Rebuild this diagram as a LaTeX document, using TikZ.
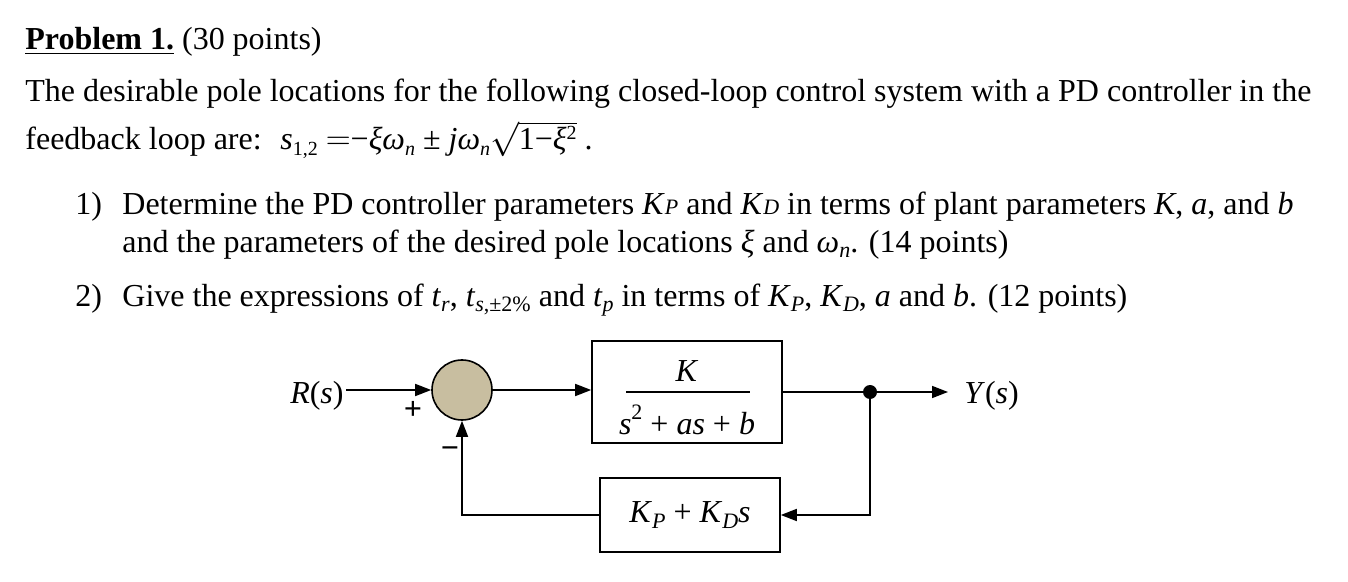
\documentclass[tikz,border=0pt]{standalone}
\usepackage{fontspec}
\setmainfont{Liberation Serif}
\usetikzlibrary{arrows.meta}
\begin{document}
\begin{tikzpicture}[x=0.5pt,y=-0.5pt,
  txt/.style={anchor=base west,inner sep=0pt,font=\fontsize{16}{19}\selectfont},
  blk/.style={draw,line width=0.8pt},
  sig/.style={line width=0.8pt,-{Triangle[length=8pt,width=6pt]}},
  ln/.style={line width=0.8pt}]
\useasboundingbox (0,0) rectangle (1348,582);
\node[txt] (t0) at (25,50) {\textbf{\underline{Problem 1.}} (30 points)};
\node[txt] (t1) at (25,102) {The desirable pole locations for the following closed-loop control system with a PD controller in the};
\node[txt] (t2) at (25,150) {feedback loop are: \ \textit{s}\raisebox{-0.4ex}{\fontsize{10}{10}\selectfont 1,2} $=$−\textit{ξω}\raisebox{-0.4ex}{\fontsize{10}{10}\selectfont\textit{n}} ± \textit{jω}\raisebox{-0.4ex}{\fontsize{10}{10}\selectfont\textit{n}}$\sqrt{\mbox{1−\textit{ξ}\raisebox{0.7ex}{\fontsize{10}{10}\selectfont 2}}}$ .};
\node[txt] (i1) at (75,215) {1)};
\node[txt] (i1t) at (122,215) {Determine the PD controller parameters \textit{K}{\fontsize{11}{11}\selectfont\textit{P}} and \textit{K}{\fontsize{11}{11}\selectfont\textit{D}} in terms of plant parameters \textit{K}, \textit{a}, and \textit{b}};
\node[txt] (i1u) at (122,253) {and the parameters of the desired pole locations \textit{ξ} and \textit{ω}\raisebox{-0.3ex}{\fontsize{11}{11}\selectfont\textit{n}}. (14 points)};
\node[txt] (i2) at (75,307) {2)};
\node[txt] (i2t) at (122,307) {Give the expressions of \textit{t}\raisebox{-0.3ex}{\fontsize{11}{11}\selectfont\textit{r}}, \textit{t}\raisebox{-0.3ex}{\fontsize{11}{11}\selectfont\textit{s},±2\%} and \textit{t}\raisebox{-0.3ex}{\fontsize{11}{11}\selectfont\textit{p}} in terms of \textit{K}\raisebox{-0.3ex}{\fontsize{11}{11}\selectfont\textit{P}}, \textit{K}\raisebox{-0.3ex}{\fontsize{11}{11}\selectfont\textit{D}}, \textit{a} and \textit{b}. (12 points)};
% diagram
\node[txt,anchor=base east] (R) at (344,403) {\textit{R}(\textit{s})};
\node[circle,draw,line width=0.8pt,fill={rgb,255:red,200;green,190;blue,160},minimum size=30pt,inner sep=0pt] (sum) at (462,390) {};
\node[blk,minimum width=95pt,minimum height=51pt,inner sep=0pt] (G) at (687,392) {};
\node[txt,anchor=base] (Gn) at (687,381) {\textit{K}};
\draw[line width=0.6pt] (626,392) -- (750,392);
\node[txt,anchor=base] (Gd) at (687,434) {\textit{s}\raisebox{1ex}{\fontsize{11}{11}\selectfont 2} + \textit{as} + \textit{b}};
\node[blk,minimum width=90pt,minimum height=37pt,inner sep=0pt,font=\fontsize{16}{19}\selectfont] (H) at (690,515) {\textit{K}\raisebox{-0.4ex}{\fontsize{11}{11}\selectfont\textit{P}} + \textit{K}\raisebox{-0.4ex}{\fontsize{11}{11}\selectfont\textit{D}}\textit{s}};
\node[txt,anchor=base west] (Y) at (964,403) {\textit{Y}(\textit{s})};
\coordinate (br) at (870,392);
\fill (br) circle (3.5pt);
\node[txt,anchor=center,font=\fontsize{16}{19}\selectfont\bfseries] (plus) at (413,410) {+};
\node[txt,anchor=center,font=\fontsize{16}{19}\selectfont\bfseries] (minus) at (450,453) {−};
\draw[sig] (R.east|-sum) ++(2,0) -- (sum.west);
\draw[sig] (sum.east) -- (G.west|-sum);
\draw[sig] (G.east) -- ([xshift=-8pt]Y.west|-G);
\draw[sig] (br) |- (H.east);
\draw[sig] (H.west) -| (sum.south);
\end{tikzpicture}
\end{document}
